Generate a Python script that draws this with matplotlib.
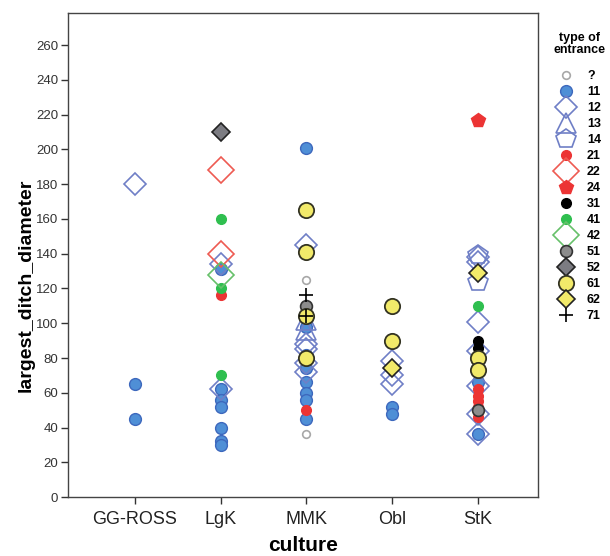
import matplotlib
matplotlib.use('Agg')
import matplotlib.pyplot as plt
import numpy as np

plt.rcParams['font.family'] = ['Liberation Sans', 'DejaVu Sans']

# culture categories on x
cultures = ['GG-ROSS', 'LgK', 'MMK', 'Obl', 'StK']

# values per type of entrance: culture + largest_ditch_diameter
tq_cult = ['MMK', 'MMK']
tq_val = [125, 36]
t11_cult = ['GG-ROSS', 'GG-ROSS', 'LgK', 'LgK', 'LgK', 'LgK', 'LgK', 'LgK', 'LgK',
            'MMK', 'MMK', 'MMK', 'MMK', 'MMK', 'MMK', 'MMK', 'MMK',
            'Obl', 'Obl', 'StK', 'StK']
t11_val = [65, 45, 131, 62, 56, 52, 40, 32, 30,
           201, 98, 82, 74, 66, 60, 56, 45,
           52, 48, 66, 36]
t12_cult = ['GG-ROSS', 'LgK', 'LgK', 'MMK', 'MMK', 'MMK', 'MMK', 'MMK',
            'Obl', 'Obl', 'Obl', 'StK', 'StK', 'StK', 'StK', 'StK', 'StK', 'StK']
t12_val = [180, 134, 62, 145, 88, 85, 77, 72,
           78, 70, 65, 138, 135, 101, 84, 64, 48, 36]
t13_cult = ['MMK', 'MMK']
t13_val = [102, 96]
t14_cult = ['StK', 'StK']
t14_val = [139, 124]
t21_cult = ['LgK', 'MMK', 'StK', 'StK', 'StK', 'StK', 'StK']
t21_val = [116, 50, 62, 58, 55, 52, 46]
t22_cult = ['LgK', 'LgK']
t22_val = [188, 140]
t24_cult = ['StK']
t24_val = [217]
t31_cult = ['StK', 'StK']
t31_val = [90, 86]
t41_cult = ['LgK', 'LgK', 'LgK', 'StK']
t41_val = [160, 120, 70, 110]
t42_cult = ['LgK']
t42_val = [128]
t51_cult = ['MMK', 'StK']
t51_val = [110, 50]
t52_cult = ['LgK']
t52_val = [210]
t61_cult = ['MMK', 'MMK', 'MMK', 'MMK', 'Obl', 'Obl', 'StK', 'StK']
t61_val = [165, 141, 104, 80, 110, 90, 80, 73]
t62_cult = ['Obl', 'StK']
t62_val = [74, 129]
t71_cult = ['MMK', 'MMK']
t71_val = [116, 104]

blue = '#4f8fd6'
blue_edge = '#3d68bd'
peri = '#6f7fc6'
red = '#ec3434'
green = '#2fbf4f'
yellow = '#f2ea6a'

# label, cult, val, marker, size, face, edge, lw
series = [
    ('?', tq_cult, tq_val, 'o', 5.5, 'none', '#a8a8a8', 1.2),
    ('11', t11_cult, t11_val, 'o', 8.5, blue, blue_edge, 1.0),
    ('12', t12_cult, t12_val, 'D', 11, 'none', peri, 1.2),
    ('13', t13_cult, t13_val, '^', 15, 'none', peri, 1.2),
    ('14', t14_cult, t14_val, 'p', 15, 'none', peri, 1.2),
    ('21', t21_cult, t21_val, 'o', 7, red, red, 1.0),
    ('22', t22_cult, t22_val, 'D', 13, 'none', '#ee5a52', 1.2),
    ('24', t24_cult, t24_val, 'p', 10, red, red, 1.0),
    ('31', t31_cult, t31_val, 'o', 7, 'black', 'black', 1.0),
    ('41', t41_cult, t41_val, 'o', 7, green, green, 1.0),
    ('42', t42_cult, t42_val, 'D', 13, 'none', '#66c06a', 1.2),
    ('51', t51_cult, t51_val, 'o', 8.5, '#8c8c8c', '#333333', 1.2),
    ('52', t52_cult, t52_val, 'D', 9, '#7c7c82', '#222222', 1.2),
    ('61', t61_cult, t61_val, 'o', 11, yellow, '#333322', 1.3),
    ('62', t62_cult, t62_val, 'D', 9.5, yellow, '#222222', 1.2),
    ('71', t71_cult, t71_val, '+', 10, 'black', 'black', 1.2),
]

fig = plt.figure(figsize=(6.1, 5.56), dpi=100)
ax = fig.add_axes([0.1115, 0.106, 0.7705, 0.8706])

for lab, cult, val, mk, ms, fc, ec, lw in series:
    xs = [cultures.index(c) for c in cult]
    ax.plot(xs, val, linestyle='none', marker=mk, markersize=ms,
            markerfacecolor=fc, markeredgecolor=ec, markeredgewidth=lw,
            label=lab)

ax.set_xlim(-0.78, 4.7)
ax.set_ylim(0, 278.5)
ax.set_xticks(range(len(cultures)))
ax.set_xticklabels(cultures, fontsize=13, color='#222222')
ax.set_yticks(np.arange(0, 261, 20))
ax.tick_params(axis='y', labelsize=9.5, colors='#333333', length=5, width=1, pad=2)
ax.tick_params(axis='x', length=5, width=1, colors='#333333', labelcolor='#222222', pad=5)
for s in ax.spines.values():
    s.set_color('#444444')
    s.set_linewidth(1.0)

ax.set_ylabel('largest_ditch_diameter', fontsize=14, fontweight='bold')
ax.yaxis.set_label_coords(-0.07, 0.438)
ax.set_xlabel('culture', fontsize=15, fontweight='bold', labelpad=6)

leg = ax.legend(loc='upper left', bbox_to_anchor=(1.028, 0.965), frameon=False,
                title='type of\nentrance', fontsize=9, labelspacing=0.32,
                handlelength=1.3, handletextpad=1.0, borderaxespad=0.0,
                borderpad=0.2)
title = leg.get_title()
title.set_fontweight('bold')
title.set_fontsize(9)
title.set_linespacing(1.0)
title.set_multialignment('center')
for t in leg.get_texts():
    t.set_fontweight('bold')
leg._legend_box.sep = 10

fig.savefig('out.png', dpi=100)
